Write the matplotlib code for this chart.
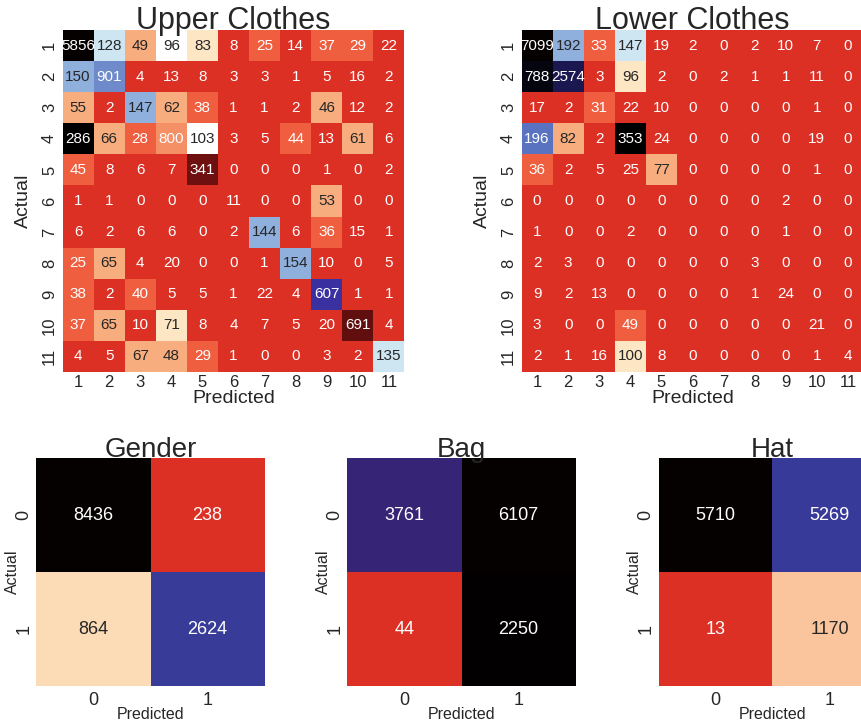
import numpy as np
import matplotlib
matplotlib.use("Agg")
import matplotlib.pyplot as plt
import matplotlib.colors as mcolors
import seaborn as sns

# ---- confusion matrices (rows: actual, columns: predicted) ----
upper_classes = [str(i) for i in range(1, 12)]
upper_cm = [
    [5856, 128, 49, 96, 83, 8, 25, 14, 37, 29, 22],
    [150, 901, 4, 13, 8, 3, 3, 1, 5, 16, 2],
    [55, 2, 147, 62, 38, 1, 1, 2, 46, 12, 2],
    [286, 66, 28, 800, 103, 3, 5, 44, 13, 61, 6],
    [45, 8, 6, 7, 341, 0, 0, 0, 1, 0, 2],
    [1, 1, 0, 0, 0, 11, 0, 0, 53, 0, 0],
    [6, 2, 6, 6, 0, 2, 144, 6, 36, 15, 1],
    [25, 65, 4, 20, 0, 0, 1, 154, 10, 0, 5],
    [38, 2, 40, 5, 5, 1, 22, 4, 607, 1, 1],
    [37, 65, 10, 71, 8, 4, 7, 5, 20, 691, 4],
    [4, 5, 67, 48, 29, 1, 0, 0, 3, 2, 135],
]

lower_classes = [str(i) for i in range(1, 12)]
lower_cm = [
    [7099, 192, 33, 147, 19, 2, 0, 2, 10, 7, 0],
    [788, 2574, 3, 96, 2, 0, 2, 1, 1, 11, 0],
    [17, 2, 31, 22, 10, 0, 0, 0, 0, 1, 0],
    [196, 82, 2, 353, 24, 0, 0, 0, 0, 19, 0],
    [36, 2, 5, 25, 77, 0, 0, 0, 0, 1, 0],
    [0, 0, 0, 0, 0, 0, 0, 0, 2, 0, 0],
    [1, 0, 0, 2, 0, 0, 0, 0, 1, 0, 0],
    [2, 3, 0, 0, 0, 0, 0, 3, 0, 0, 0],
    [9, 2, 13, 0, 0, 0, 0, 1, 24, 0, 0],
    [3, 0, 0, 49, 0, 0, 0, 0, 0, 21, 0],
    [2, 1, 16, 100, 8, 0, 0, 0, 0, 1, 4],
]

binary_classes = ["0", "1"]
gender_cm = [[8436, 238], [864, 2624]]
bag_cm = [[3761, 6107], [44, 2250]]
hat_cm = [[5710, 5269], [13, 1170]]

# ---- banded (flag-like) colormap, printed tones ----
# one period of the band cycle: position in period -> colour
band_pos = [0.0, 0.0618, 0.1235, 0.1853, 0.2471, 0.3088, 0.3706, 0.4324,
            0.4941, 0.5706, 0.6059, 0.6353, 0.6824, 0.7412, 0.8029, 0.8647,
            0.9265, 0.9882, 1.0]
band_hex = ["#dd3025", "#ee5e3f", "#f8ad7e", "#fde6c4", "#ffffff", "#cde6f2",
            "#8fb0dc", "#5a73c0", "#2f3596", "#383c98", "#3a30a0", "#362577",
            "#1b1750", "#000000", "#2a0606", "#6e1010", "#b01e1e", "#db3025",
            "#dd3025"]
n_cycles = 15.75
n_lut = 256

band_rgb = np.array([mcolors.to_rgb(c) for c in band_hex])
phase = (np.linspace(0.0, 1.0, n_lut) * n_cycles) % 1.0
lut = np.column_stack([np.interp(phase, band_pos, band_rgb[:, k]) for k in range(3)])
banded = mcolors.ListedColormap(lut, name="banded")

sns.set_theme(style="white")
plt.rcParams["font.family"] = ["Liberation Sans", "DejaVu Sans"]

W, H = 862, 725
fig = plt.figure(figsize=(W / 100, H / 100), dpi=100)
TXT = "#262626"


def box(x0, y0, x1, y1):
    return [x0 / W, 1 - y1 / H, (x1 - x0) / W, (y1 - y0) / H]


def draw(rect, cm, labels, title, title_size, label_size, tick_size, annot_size,
         xpad, ypad, xlabelpad, ylabelpad):
    ax = fig.add_axes(rect)
    sns.heatmap(np.array(cm), annot=True, fmt="d", cmap=banded, cbar=False,
                square=True, xticklabels=labels, yticklabels=labels, ax=ax,
                annot_kws={"fontsize": annot_size})
    ax.set_title(title, fontsize=title_size, pad=1, color=TXT)
    ax.set_xlabel("Predicted", fontsize=label_size, labelpad=xlabelpad, color=TXT)
    ax.set_ylabel("Actual", fontsize=label_size, labelpad=ylabelpad, color=TXT)
    ax.tick_params(axis="x", labelsize=tick_size, length=0, pad=xpad, labelcolor=TXT)
    ax.tick_params(axis="y", labelsize=tick_size, length=0, pad=ypad, labelcolor=TXT)
    plt.setp(ax.get_yticklabels(), rotation=90, va="center")
    plt.setp(ax.get_xticklabels(), rotation=0)
    return ax


draw(box(62, 30, 405, 372), upper_cm, upper_classes, "Upper Clothes",
     22, 14, 12, 11, 2, 4, 0, 7)
draw(box(521, 30, 864, 372), lower_cm, lower_classes, "Lower Clothes",
     22, 14, 12, 11, 2, 4, 0, 7)
draw(box(36, 458, 265, 686), gender_cm, binary_classes, "Gender",
     20, 11.5, 13, 13, 4, 3, -1, -3)
draw(box(347, 458, 576, 686), bag_cm, binary_classes, "Bag",
     20, 11.5, 13, 13, 4, 3, -1, -3)
draw(box(658, 458, 887, 686), hat_cm, binary_classes, "Hat",
     20, 11.5, 13, 13, 4, 3, -1, -3)

fig.savefig("out.png", dpi=100)
